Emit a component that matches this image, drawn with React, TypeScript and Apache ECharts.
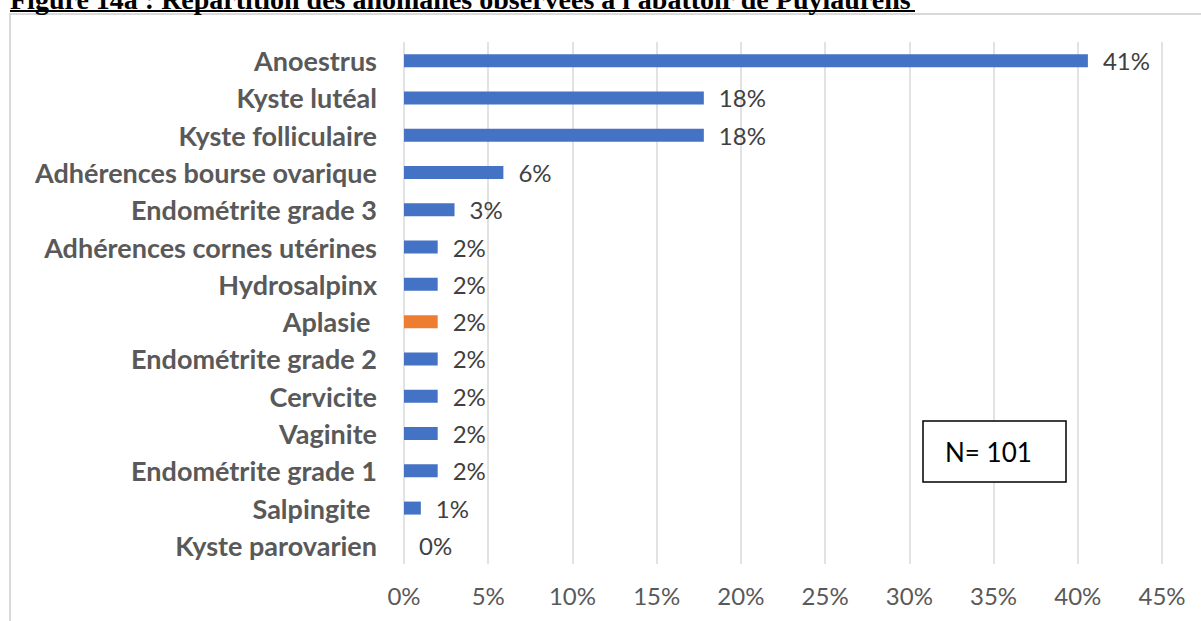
import React, { useEffect, useRef } from "react";
import * as echarts from "echarts";

const categories = [
  "Anoestrus",
  "Kyste lutéal",
  "Kyste folliculaire",
  "Adhérences bourse ovarique",
  "Endométrite grade 3",
  "Adhérences cornes utérines",
  "Hydrosalpinx",
  "Aplasie ",
  "Endométrite grade 2",
  "Cervicite",
  "Vaginite",
  "Endométrite grade 1",
  "Salpingite ",
  "Kyste parovarien",
];
const values = [0.406, 0.178, 0.178, 0.059, 0.03, 0.02, 0.02, 0.02, 0.02, 0.02, 0.02, 0.02, 0.01, 0];
const highlighted = ["Aplasie "];
const axisMax = 0.45;
const axisStep = 0.05;
const titleText = "Figure 14a : Répartition des anomalies observées à l'abattoir de Puylaurens";
const noteText = "N= 101";

const BLUE = "#4472C4";
const ORANGE = "#ED7D31";
const FONT = "Lato, 'Open Sans', sans-serif";

export default function App() {
  const ref = useRef<HTMLDivElement>(null);
  useEffect(() => {
    if (!ref.current) return;
    const chart = echarts.init(ref.current, null, { renderer: "svg" });
    const pct = (v: number) => Math.round(v * 100) + "%";
    chart.setOption({
      animation: false,
      backgroundColor: "#ffffff",
      grid: { left: 404, right: 39, top: 42, bottom: 57, containLabel: false },
      xAxis: {
        type: "value",
        min: 0,
        max: axisMax,
        interval: axisStep,
        axisLine: { show: false },
        axisTick: { show: false },
        splitLine: { show: true, lineStyle: { color: "#d9d9d9", width: 1.5 } },
        axisLabel: {
          formatter: (v: number) => pct(v),
          color: "#595959",
          fontFamily: FONT,
          fontSize: 24,
          margin: 19,
        },
      },
      yAxis: {
        type: "category",
        data: categories,
        inverse: true,
        axisLine: { show: false },
        axisTick: { show: false },
        axisLabel: {
          color: "#595959",
          fontFamily: FONT,
          fontWeight: "bold",
          fontSize: 27,
          margin: 27,
        },
      },
      series: [
        {
          type: "bar",
          barWidth: 13,
          data: values.map((v, i) => ({
            value: v,
            itemStyle: { color: highlighted.includes(categories[i]) ? ORANGE : BLUE },
          })),
          label: {
            show: true,
            position: "right",
            distance: 15,
            formatter: (p: any) => pct(p.value),
            color: "#404040",
            fontFamily: FONT,
            fontSize: 24,
          },
        },
      ],
      graphic: [
        {
          type: "rect",
          shape: { x: 10, y: 14, width: 1300, height: 700 },
          style: { fill: "none", stroke: "#d9d9d9", lineWidth: 2 },
          z: 1,
          silent: true,
        },
        {
          type: "text",
          x: 10,
          y: -15,
          style: {
            text: titleText,
            font: "bold 28px 'Liberation Serif', 'Times New Roman', serif",
            fill: "#000000",
            verticalAlign: "top",
          },
          z: 10,
        },
        {
          type: "line",
          shape: { x1: 10, y1: 11, x2: 915, y2: 11 },
          style: { stroke: "#000000", lineWidth: 2 },
          z: 10,
        },
        {
          type: "rect",
          shape: { x: 923, y: 421, width: 143, height: 61 },
          style: { fill: "#ffffff", stroke: "#000000", lineWidth: 1.5 },
          z: 10,
        },
        {
          type: "text",
          x: 945,
          y: 452,
          style: {
            text: noteText,
            font: "26px Lato, 'Open Sans', sans-serif",
            fill: "#000000",
            verticalAlign: "middle",
          },
          z: 11,
        },
      ],
    });
    return () => chart.dispose();
  }, []);
  return <div ref={ref} style={{ position: "fixed", left: 0, top: 0, width: 1201, height: 621 }} />;
}
